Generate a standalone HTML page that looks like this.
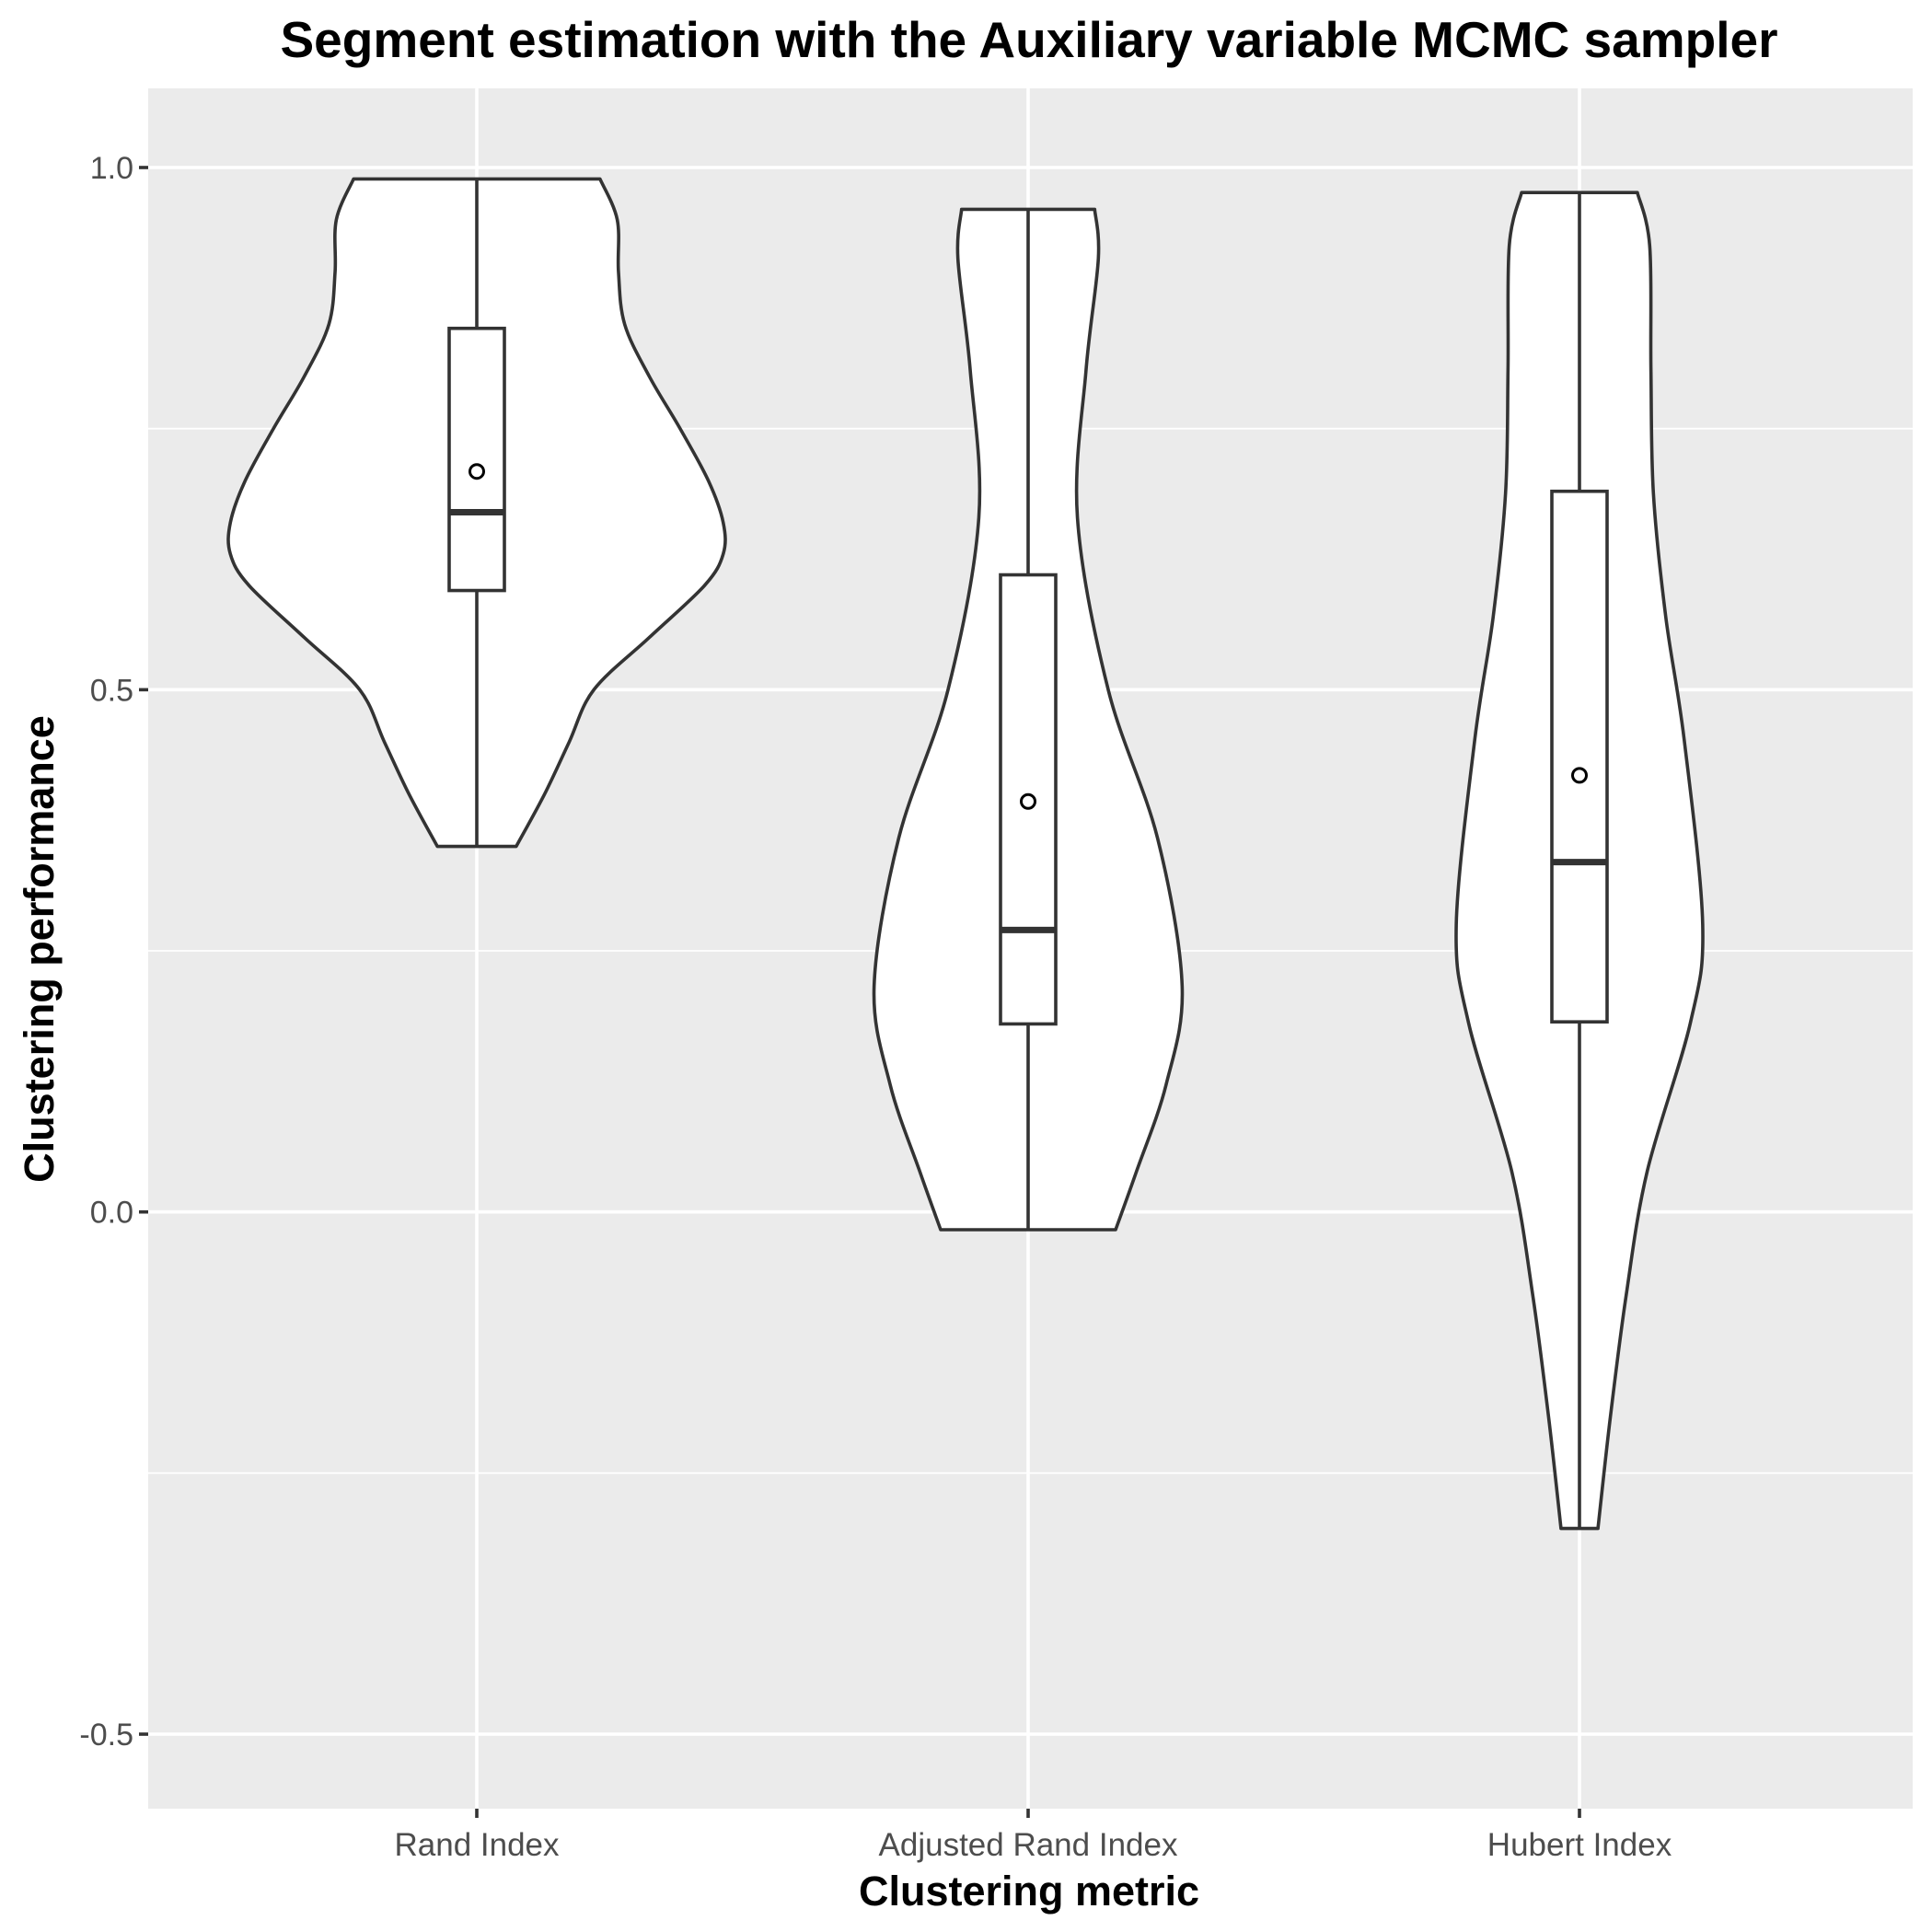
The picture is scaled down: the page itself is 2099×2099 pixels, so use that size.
<!DOCTYPE html>
<html><head><meta charset="utf-8"><style>
html,body{margin:0;padding:0;background:#fff;}
svg{display:block;font-family:"Liberation Sans",Arial,sans-serif;}
</style></head><body>
<svg id="chart" width="2099" height="2099" viewBox="0 0 2099 2099">
<text x="1118" y="62" text-anchor="middle" font-size="55" font-weight="bold" fill="#000">Segment estimation with the Auxiliary variable MCMC sampler</text>
<rect x="161" y="96" width="1917" height="1869" fill="#EBEBEB"/>
<g id="grid"></g>
<g id="violins"></g>
<g id="axes"></g>
<text x="1118" y="2070" text-anchor="middle" font-size="45" font-weight="bold" fill="#000">Clustering metric</text>
<text transform="translate(58,1031) rotate(-90)" text-anchor="middle" font-size="45" font-weight="bold" fill="#000">Clustering performance</text>
</svg>
<script>
const categories = ["Rand Index","Adjusted Rand Index","Hubert Index"];
const yTicks = [1.0,0.5,0.0,-0.5];
const yTickLabels = ["1.0","0.5","0.0","-0.5"];
const yMinor = [0.75,0.25,-0.25];
// violin density profiles: [value, relative half-width]
const randDensity = [[0.989,100],[0.95,114],[0.90,115],[0.85,120],[0.80,140],[0.75,165],[0.70,188],[0.66,200],[0.63,200],[0.60,185],[0.55,140],[0.50,95],[0.45,75],[0.40,55],[0.35,32]];
const ariDensity = [[0.96,54],[0.913,57],[0.806,47],[0.665,40],[0.5,65],[0.358,105],[0.216,125],[0.122,112],[0.039,88],[-0.017,71]];
const hubertDensity = [[0.976,47],[0.925,57],[0.806,58],[0.688,60],[0.570,70],[0.452,85],[0.275,100],[0.181,90],[0.039,55],[-0.079,38],[-0.197,25],[-0.303,15]];
const densities = [randDensity, ariDensity, hubertDensity];
const q1s = [0.595,0.18,0.182];
const medians = [0.67,0.27,0.335];
const q3s = [0.846,0.61,0.69];
const means = [0.709,0.393,0.418];
const whiskLo = [0.35,-0.017,-0.303];
const whiskHi = [0.989,0.96,0.976];

const NS="http://www.w3.org/2000/svg";
const yPx = v => 182 + (1 - v) * 1134.7;
const xPx = i => 518 + i * 599;
const wPx = d => d * 1.3387;
function mk(tag, attrs, parent){const e=document.createElementNS(NS,tag);for(const k in attrs)e.setAttribute(k,attrs[k]);parent.appendChild(e);return e;}
const grid=document.getElementById('grid'), vg=document.getElementById('violins'), ax=document.getElementById('axes');
yMinor.forEach(v=>{const l=mk('line',{x1:161,x2:2078,y1:yPx(v),y2:yPx(v),stroke:'#fff','stroke-width':1.8},grid);

});
yTicks.forEach((v,i)=>{const l=mk('line',{x1:161,x2:2078,y1:yPx(v),y2:yPx(v),stroke:'#fff','stroke-width':3.6},grid);


const t=mk('line',{x1:151,x2:161,y1:yPx(v),y2:yPx(v),stroke:'#333','stroke-width':3.6},ax);


const tx=mk('text',{x:145,y:yPx(v)+12,'text-anchor':'end','font-size':34,fill:'#4D4D4D'},ax);tx.textContent=yTickLabels[i];

});
categories.forEach((c,i)=>{const x=xPx(i);
const l=mk('line',{x1:x,x2:x,y1:96,y2:1965,stroke:'#fff','stroke-width':3.6},grid);


const t=mk('line',{x1:x,x2:x,y1:1965,y2:1975,stroke:'#333','stroke-width':3.6},ax);


const tx=mk('text',{x:x,y:2016,'text-anchor':'middle','font-size':35,fill:'#4D4D4D'},ax);tx.textContent=c;

});

function smooth(pts){let d='M'+pts[0][0]+','+pts[0][1];
for(let i=0;i<pts.length-1;i++){const p0=pts[Math.max(i-1,0)],p1=pts[i],p2=pts[i+1],p3=pts[Math.min(i+2,pts.length-1)];
const c1=[p1[0]+(p2[0]-p0[0])/6,p1[1]+(p2[1]-p0[1])/6],c2=[p2[0]-(p3[0]-p1[0])/6,p2[1]-(p3[1]-p1[1])/6];
d+=' C'+c1[0]+','+c1[1]+' '+c2[0]+','+c2[1]+' '+p2[0]+','+p2[1];}return d;}
densities.forEach((dens,i)=>{const x=xPx(i);
const right=dens.map(p=>[x+wPx(p[1]),yPx(p[0])]);
const left=dens.slice().reverse().map(p=>[x-wPx(p[1]),yPx(p[0])]);
let d=smooth(right)+' L'+left[0][0]+','+left[0][1]+smooth(left).replace(/^M[^C]*/,' ')+' Z';
const v=mk('path',{d:d,fill:'#fff',stroke:'#333','stroke-width':3.6,'stroke-linejoin':'round'},vg);


const w=mk('line',{x1:x,x2:x,y1:yPx(whiskHi[i]),y2:yPx(whiskLo[i]),stroke:'#333','stroke-width':3.6},vg);


const bw=30;
const b=mk('rect',{x:x-bw,y:yPx(q3s[i]),width:2*bw,height:yPx(q1s[i])-yPx(q3s[i]),fill:'#fff',stroke:'#333','stroke-width':3.6},vg);


const m=mk('line',{x1:x-bw,x2:x+bw,y1:yPx(medians[i]),y2:yPx(medians[i]),stroke:'#333','stroke-width':7},vg);


const mc=mk('circle',{cx:x,cy:yPx(means[i]),r:7.5,fill:'#fff',stroke:'#000','stroke-width':3},vg);

});
</script>
</body></html>
